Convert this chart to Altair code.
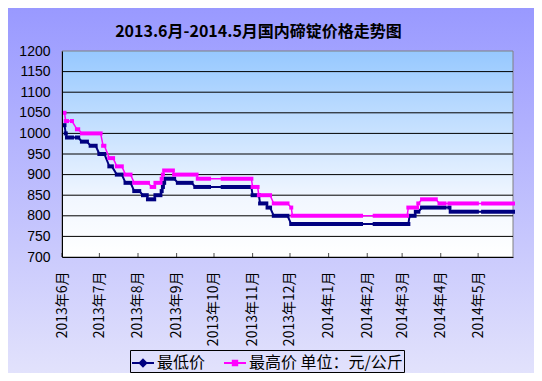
import altair as alt
import pandas as pd

TITLE = "2013.6月-2014.5月国内碲锭价格走势图"
SERIES = ["最低价", "最高价 单位：元/公斤"]
LOW_COLOR = "#000080"
HIGH_COLOR = "#FF00FF"

# x-axis range and month labels
domain_start = "2013-06-01"
domain_end = "2014-05-29"
month_starts = ["2013-06-01", "2013-07-01", "2013-08-01", "2013-09-01", "2013-10-01",
                "2013-11-01", "2013-12-01", "2014-01-01", "2014-02-01", "2014-03-01",
                "2014-04-01", "2014-05-01"]
y_ticks = [700, 750, 800, 850, 900, 950, 1000, 1050, 1100, 1150, 1200]
y_grid = [750, 800, 850, 900, 950, 1000, 1050, 1100, 1150]

# 最低价: price held from start date to end date
low_start = ["2013-06-03", "2013-06-04", "2013-06-05", "2013-06-13", "2013-06-17", "2013-06-24",
             "2013-07-01", "2013-07-09", "2013-07-15", "2013-07-22", "2013-07-29", "2013-08-05",
             "2013-08-09", "2013-08-15", "2013-08-20", "2013-08-21", "2013-08-22", "2013-08-23",
             "2013-09-02", "2013-09-16", "2013-10-08", "2013-11-01", "2013-11-07", "2013-11-13",
             "2013-11-18", "2013-12-02", "2014-02-07", "2014-03-07", "2014-03-12", "2014-03-17",
             "2014-04-08", "2014-04-09", "2014-05-05"]
low_end = ["2013-06-03", "2013-06-04", "2013-06-09", "2013-06-14", "2013-06-21", "2013-06-28",
           "2013-07-05", "2013-07-11", "2013-07-19", "2013-07-26", "2013-08-02", "2013-08-08",
           "2013-08-14", "2013-08-19", "2013-08-20", "2013-08-21", "2013-08-22", "2013-08-30",
           "2013-09-13", "2013-09-27", "2013-10-31", "2013-11-06", "2013-11-12", "2013-11-15",
           "2013-11-29", "2014-01-27", "2014-03-06", "2014-03-11", "2014-03-14", "2014-04-04",
           "2014-04-08", "2014-04-30", "2014-05-29"]
low_value = [1020, 1000, 990, 990, 980, 970,
             950, 920, 900, 880, 860, 850,
             840, 850, 860, 870, 880, 890,
             880, 870, 870, 850, 830, 820,
             800, 780, 780, 800, 810, 820,
             820, 810, 810]

# 最高价
high_start = ["2013-06-03", "2013-06-04", "2013-06-09", "2013-06-13", "2013-06-17", "2013-07-04",
              "2013-07-09", "2013-07-15", "2013-07-22", "2013-07-29", "2013-08-12", "2013-08-15",
              "2013-08-20", "2013-08-21", "2013-08-22", "2013-08-30", "2013-09-18", "2013-10-08",
              "2013-11-01", "2013-11-06", "2013-11-18", "2013-12-02", "2013-12-03", "2014-02-07",
              "2014-03-06", "2014-03-14", "2014-03-17", "2014-03-31", "2014-04-08", "2014-05-05"]
high_end = ["2013-06-03", "2013-06-05", "2013-06-09", "2013-06-14", "2013-07-02", "2013-07-05",
            "2013-07-12", "2013-07-19", "2013-07-26", "2013-08-09", "2013-08-14", "2013-08-19",
            "2013-08-20", "2013-08-21", "2013-08-29", "2013-09-17", "2013-09-27", "2013-10-31",
            "2013-11-05", "2013-11-15", "2013-11-29", "2013-12-02", "2014-01-27", "2014-03-05",
            "2014-03-13", "2014-03-14", "2014-03-28", "2014-04-04", "2014-04-30", "2014-05-29"]
high_value = [1050, 1030, 1030, 1010, 1000, 970,
              940, 920, 900, 880, 870, 880,
              890, 900, 910, 900, 890, 890,
              870, 850, 830, 820, 800, 800,
              820, 830, 840, 830, 830, 830]


def dt(s):
    y, m, d = (int(p) for p in s.split("-"))
    return alt.DateTime(year=y, month=m, date=d, utc=True)


def seg_df(starts, ends, values):
    return pd.DataFrame({"start": starts, "end": ends, "value": values})


def path_df(starts, ends, values):
    rows = []
    for s, e, v in zip(starts, ends, values):
        rows.append({"date": s, "value": v, "idx": len(rows)})
        rows.append({"date": e, "value": v, "idx": len(rows)})
    return pd.DataFrame(rows)


W, H = 451, 206
PAD = {"left": 54, "top": 43, "right": 21, "bottom": 116}

xscale = alt.Scale(type="utc", domain=[dt(domain_start), dt(domain_end)])
yscale = alt.Scale(domain=[700, 1200], nice=False, zero=False)
xaxis = alt.Axis(values=[dt(m) for m in month_starts],
                 labelExpr="utcFormat(datum.value, '%Y年%-m月')",
                 labelAngle=270, labelAlign="right", labelBaseline="middle",
                 labelPadding=14, labelFont="Noto Sans CJK SC", labelFontSize=14,
                 labelColor="black", ticks=False, domainColor="black", domainWidth=1,
                 grid=False, title=None, zindex=1, labelOverlap=False,
                 labelBound=False, labelFlush=False)
yaxis = alt.Axis(values=y_ticks, format="d", labelFont="Liberation Sans", labelFontSize=14,
                 labelColor="black", ticks=False, labelPadding=12,
                 domainColor="black", domainWidth=1, grid=False, title=None, zindex=1)


def X(field):
    return alt.X(f"{field}:T", scale=xscale, axis=xaxis, title=None)


def Y(field):
    return alt.Y(f"{field}:Q", scale=yscale, axis=yaxis, title=None)


outer_grad = alt.Gradient(gradient="linear",
                          stops=[alt.GradientStop(offset=0, color="#9999FF"),
                                 alt.GradientStop(offset=1, color="#E2E2FC")],
                          x1=0, x2=0, y1=0, y2=1)
plot_grad = alt.Gradient(gradient="linear",
                         stops=[alt.GradientStop(offset=0, color="#96C8FF"),
                                alt.GradientStop(offset=0.72, color="#F2F7FF"),
                                alt.GradientStop(offset=1, color="#FFFFFF")],
                         x1=0, x2=0, y1=0, y2=1)

outer_bg = alt.Chart(pd.DataFrame({"k": [0]})).mark_rect(fill=outer_grad).encode(
    x=alt.value(-PAD["left"]), x2=alt.value(W + PAD["right"]),
    y=alt.value(-PAD["top"]), y2=alt.value(H + PAD["bottom"]))

plot_bg = alt.Chart(pd.DataFrame({"start": [domain_start], "end": [domain_end],
                                  "lo": [y_ticks[0]], "hi": [y_ticks[-1]]})).mark_rect(
    fill=plot_grad, stroke="#808080", strokeWidth=1).encode(
    x=X("start"), x2=alt.X2("end:T"), y=Y("lo"), y2=alt.Y2("hi:Q"))

grid = alt.Chart(pd.DataFrame({"v": y_grid})).mark_rule(color="black", strokeWidth=1).encode(y=Y("v"))

ticks = alt.Chart(pd.DataFrame({"m": month_starts, "base": [y_ticks[0]] * len(month_starts)})).mark_tick(
    orient="vertical", size=4, thickness=1, color="black", yOffset=-2).encode(x=X("m"), y=Y("base"))

low_line = alt.Chart(path_df(low_start, low_end, low_value)).mark_line(
    color=LOW_COLOR, strokeWidth=2).encode(x=X("date"), y=Y("value"), order=alt.Order("idx:Q"))
low_rule = alt.Chart(seg_df(low_start, low_end, low_value)).mark_rule(
    color=LOW_COLOR, strokeWidth=4, strokeCap="square").encode(
    x=X("start"), x2=alt.X2("end:T"), y=Y("value"))
high_line = alt.Chart(path_df(high_start, high_end, high_value)).mark_line(
    color=HIGH_COLOR, strokeWidth=1.5).encode(x=X("date"), y=Y("value"), order=alt.Order("idx:Q"))
high_rule = alt.Chart(seg_df(high_start, high_end, high_value)).mark_rule(
    color=HIGH_COLOR, strokeWidth=4, strokeCap="square").encode(
    x=X("start"), x2=alt.X2("end:T"), y=Y("value"))

LOW_MARK = "M-1,0H1M0,-0.3L0.3,0L0,0.3L-0.3,0ZM0,-0.15L0.15,0L0,0.15L-0.15,0Z"
HIGH_MARK = "M-1,0H1M-0.2,-0.2H0.2V0.2H-0.2ZM-0.08,-0.08H0.08V0.08H-0.08Z"

leg = alt.Legend(title=None, orient="none", legendX=68, legendY=299, direction="horizontal",
                 symbolSize=484, symbolStrokeWidth=2, symbolOpacity=1,
                 labelFont="Noto Sans CJK SC", labelFontSize=16, labelColor="black",
                 labelOffset=2, columnPadding=14, padding=1, strokeColor="black",
                 labelLimit=400)

legend_layer = alt.Chart(pd.DataFrame({"date": [low_start[0]], "value": [low_value[0]],
                                       "series": [SERIES[0]]})).mark_point(
    filled=False, strokeWidth=2, opacity=1).encode(
    x=X("date"), y=Y("value"),
    color=alt.Color("series:N", scale=alt.Scale(domain=SERIES, range=[LOW_COLOR, HIGH_COLOR]), legend=leg),
    shape=alt.Shape("series:N", scale=alt.Scale(domain=SERIES, range=[LOW_MARK, HIGH_MARK]), legend=leg),
).transform_filter("false")

chart = alt.layer(outer_bg, plot_bg, grid, ticks, low_line, low_rule, high_line, high_rule,
                  legend_layer).properties(
    width=W, height=H,
    title=alt.TitleParams(TITLE, font="Noto Sans CJK SC", fontSize=16, fontWeight="bold",
                          color="black", anchor="middle", frame="group", dx=-29, offset=-32),
    autosize=alt.AutoSizeParams(type="none"),
    padding=PAD,
).configure(background="#C4C4FD").configure_view(stroke=None)

chart.save("out.html", embed_options={"renderer": "svg", "actions": False})
